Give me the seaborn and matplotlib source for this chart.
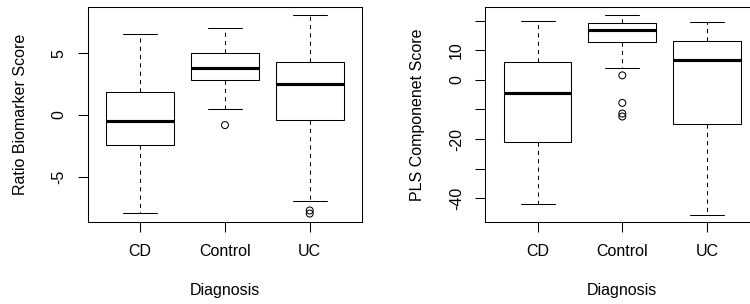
import numpy as np
import pandas as pd
import matplotlib
matplotlib.use("Agg")
import matplotlib.pyplot as plt
import seaborn as sns

# categories on the x axis
diagnosis = ["CD", "Control", "UC"]

# left panel: Ratio Biomarker Score (box summary per diagnosis)
ratio_low = [-7.88, 0.51, -6.95]
ratio_q1 = [-2.40, 2.81, -0.38]
ratio_median = [-0.46, 3.80, 2.54]
ratio_q3 = [1.86, 4.97, 4.32]
ratio_high = [6.53, 6.99, 8.07]
ratio_out_diag = ["Control", "UC", "UC"]
ratio_out_vals = [-0.81, -7.70, -7.95]

# right panel: PLS Componenet Score
pls_low = [-42.0, 3.9, -45.5]
pls_q1 = [-20.9, 12.9, -14.8]
pls_median = [-4.5, 16.7, 6.7]
pls_q3 = [6.0, 19.3, 13.1]
pls_high = [19.9, 21.9, 19.5]
pls_out_diag = ["Control", "Control", "Control", "Control"]
pls_out_vals = [1.5, -7.8, -11.4, -12.4]

# tick labels
ratio_ticks = [-5, 0, 5]
ratio_ticklabels = ["-5", "0", "5"]
pls_ticks = [-40, -30, -20, -10, 0, 10, 20]
pls_ticklabels = ["-40", "", "-20", "", "0", "10", ""]

sns.set_style("ticks", {
    "axes.edgecolor": "black",
    "xtick.color": "black",
    "ytick.color": "black",
    "text.color": "black",
    "axes.labelcolor": "black",
})
plt.rcParams["font.family"] = ["Liberation Sans", "DejaVu Sans"]
plt.rcParams["axes.unicode_minus"] = False

FS = 11.5
LW = 0.75


def summary_frame(lo, q1, med, q3, hi):
    # five summary values per group -> quartiles/whiskers reproduce exactly
    rows = []
    for i, c in enumerate(diagnosis):
        for v in (lo[i], q1[i], med[i], q3[i], hi[i]):
            rows.append({"Diagnosis": c, "score": v})
    return pd.DataFrame(rows)


def draw_panel(ax, df, out_diag, out_vals, ylim, ticks, ticklabels, ylabel):
    sns.boxplot(data=df, x="Diagnosis", y="score", order=diagnosis,
                whis=(0, 100), width=0.8, color="white", linecolor="black",
                linewidth=LW, showfliers=False, saturation=1,
                medianprops={"linewidth": 2.25},
                whiskerprops={"linestyle": (0, (4, 4))}, ax=ax)
    # outliers as open circles
    sns.stripplot(x=out_diag, y=out_vals, order=diagnosis, jitter=False,
                  color="none", edgecolor="black", linewidth=LW, size=5,
                  marker="o", ax=ax)
    ax.set_xlim(-0.62, 2.62)
    ax.set_ylim(*ylim)
    ax.set_yticks(ticks)
    ax.set_yticklabels(ticklabels, rotation=90, va="center")
    ax.set_xticks(range(len(diagnosis)))
    ax.set_xticklabels(diagnosis)
    ax.tick_params(axis="both", length=7.2, width=LW, labelsize=FS, pad=8)
    for sp in ax.spines.values():
        sp.set_linewidth(LW)
        sp.set_visible(True)
    ax.set_xlabel("Diagnosis", fontsize=FS)
    ax.set_ylabel(ylabel, fontsize=FS)
    ax.xaxis.set_label_coords(0.5, -0.282)
    ax.yaxis.set_label_coords(-0.218, 0.5)


fig = plt.figure(figsize=(7.5, 3.04), dpi=100)
ax1 = fig.add_axes([0.1169, 0.2681, 0.3661, 0.7089])
ax2 = fig.add_axes([0.6467, 0.2681, 0.3661, 0.7089])

draw_panel(ax1, summary_frame(ratio_low, ratio_q1, ratio_median, ratio_q3, ratio_high),
           ratio_out_diag, ratio_out_vals, (-8.67, 8.72),
           ratio_ticks, ratio_ticklabels, "Ratio Biomarker Score")
draw_panel(ax2, summary_frame(pls_low, pls_q1, pls_median, pls_q3, pls_high),
           pls_out_diag, pls_out_vals, (-48.2, 24.6),
           pls_ticks, pls_ticklabels, "PLS Componenet Score")

fig.savefig("out.png", dpi=100)
